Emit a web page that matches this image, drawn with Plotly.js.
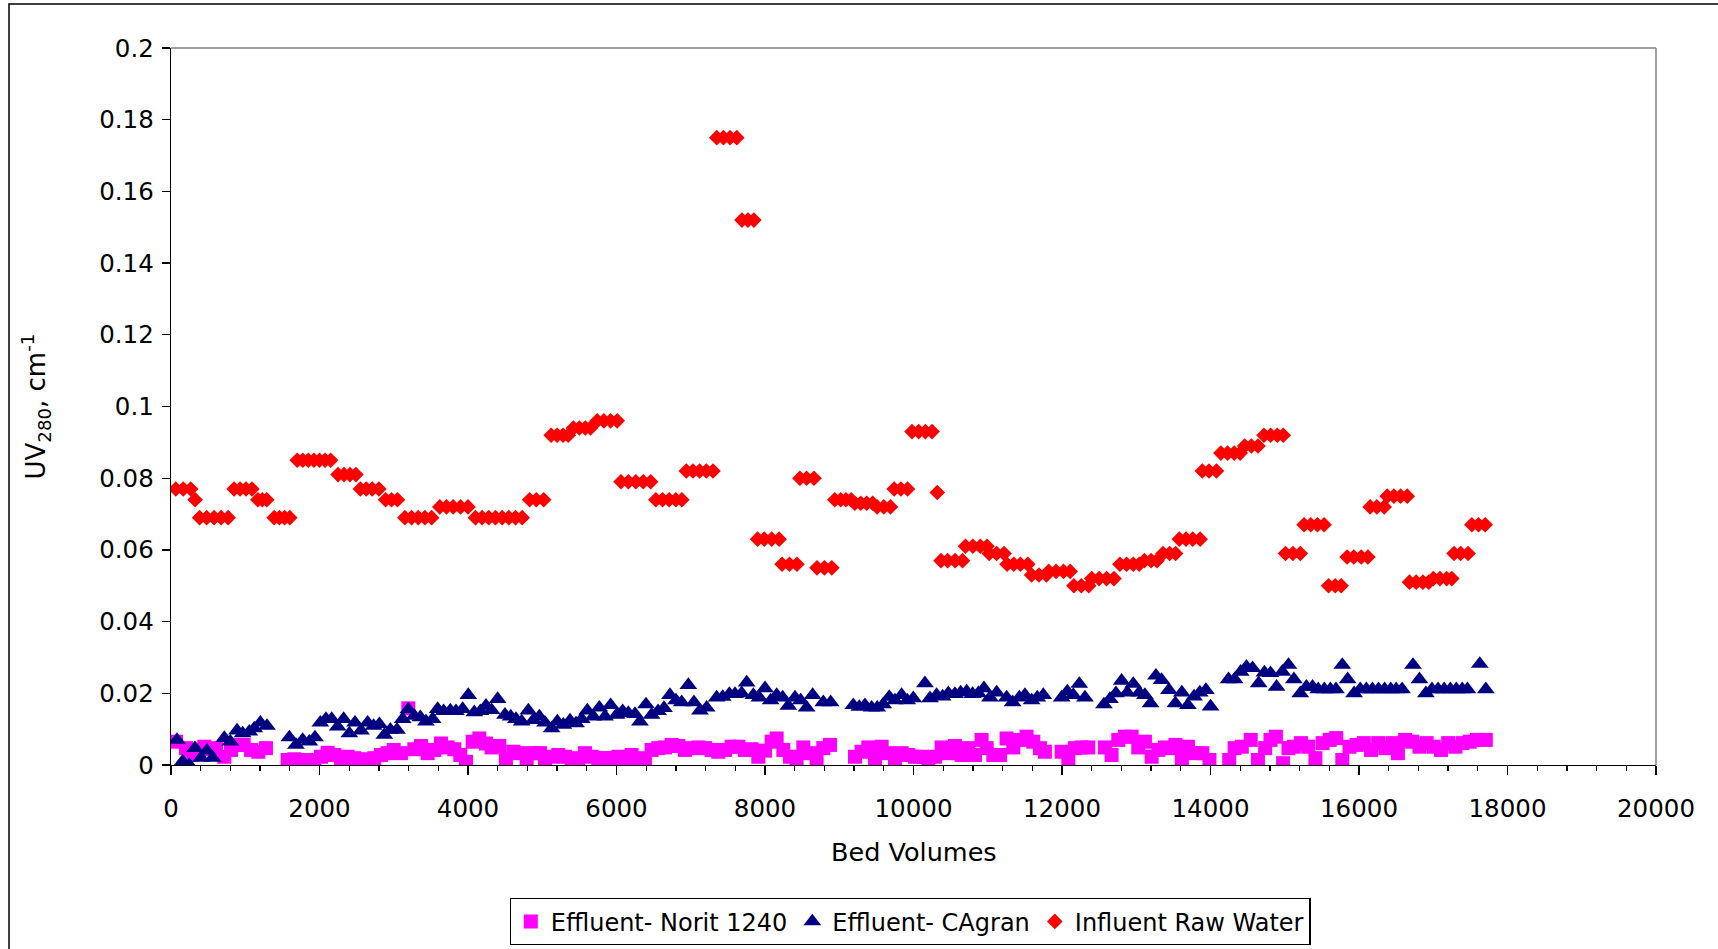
<!DOCTYPE html>
<html>
<head>
<meta charset="utf-8">
<script src="https://cdn.plot.ly/plotly-3.0.1.min.js"></script>
<style>
html,body{margin:0;padding:0;background:#fff;}
#chart{width:1718px;height:949px;}
</style>
</head>
<body>
<div id="chart"></div>
<script>
// Effluent - Norit 1240 (squares)
const bvNorit = [67,202,269,359,449,530,606,718,808,898,979,1077,1176,1279,
1571,1661,1751,1840,1930,2020,2110,2200,2289,2379,2469,2559,2648,2738,2828,2918,2999,3097,3196,3277,3367,3457,3546,3636,3726,3816,3896,3973,4063,4152,4242,4318,4422,4511,
4611,4700,4790,4880,4970,5037,5127,5217,5306,5396,5486,5576,5666,5755,5845,5935,6025,6114,6204,6294,6384,6473,6563,6653,6743,6833,6922,7012,7102,7192,7281,7371,7461,7551,7641,7730,7820,7910,8000,8090,8157,8247,8336,8426,8516,8606,8695,8785,8875,
9212,9301,9391,9481,9571,9661,9750,9840,9930,10020,10110,10199,10289,10379,10469,10558,10648,10738,10828,10917,10985,11075,11165,11254,11344,11434,11523,11613,11703,11770,
11995,12085,12174,12264,12354,12578,12668,12758,12848,12938,13027,13117,13207,13297,13386,13430,13527,13614,13696,13793,13890,13986,
14252,14325,14422,14542,14639,14736,14808,14881,14977,15050,15123,15219,15316,15413,15510,15606,15693,15775,15872,15968,16065,16162,16259,16355,16452,16524,16621,16717,16814,16911,17007,17104,17201,17298,17395,17491,17588,17708];
const uvNorit = [0.0065,0.0047,0.0028,0.0042,0.0051,0.0044,0.0047,0.0023,0.0042,0.0056,0.0056,0.0042,0.0037,0.0047,
0.0014,0.0016,0.0014,0.0014,0.0009,0.0023,0.0034,0.0028,0.0019,0.0023,0.0019,0.0016,0.0014,0.0019,0.0028,0.0033,0.0042,0.0033,0.0158,0.0044,0.0053,0.0033,0.0042,0.0060,0.0049,0.0044,0.0028,0.0009,0.0065,0.0074,0.0060,0.0049,0.0053,0.0015,
0.0037,0.0033,0.0009,0.0033,0.0033,0.0009,0.0023,0.0028,0.0023,0.0014,0.0019,0.0033,0.0023,0.0019,0.0019,0.0019,0.0023,0.0019,0.0028,0.0014,0.0019,0.0042,0.0047,0.0049,0.0056,0.0053,0.0042,0.0047,0.0049,0.0047,0.0042,0.0037,0.0042,0.0051,0.0051,0.0042,0.0044,0.0023,0.0040,0.0065,0.0074,0.0042,0.0023,0.0014,0.0049,0.0033,0.0014,0.0047,0.0056,
0.0023,0.0037,0.0049,0.0014,0.0051,0.0033,0.0016,0.0033,0.0028,0.0023,0.0023,0.0019,0.0023,0.0049,0.0033,0.0053,0.0028,0.0047,0.0028,0.0070,0.0047,0.0028,0.0028,0.0074,0.0049,0.0070,0.0079,0.0065,0.0047,0.0037,
0.0037,0.0019,0.0047,0.0049,0.0049,0.0049,0.0028,0.0070,0.0079,0.0079,0.0049,0.0065,0.0023,0.0042,0.0049,0.0047,0.0056,0.0019,0.0051,0.0033,0.0033,0.0014,
0.0014,0.0047,0.0051,0.0070,0.0014,0.0047,0.0070,0.0079,0.0005,0.0047,0.0051,0.0061,0.0051,0.0019,0.0061,0.0070,0.0075,0.0014,0.0051,0.0056,0.0061,0.0042,0.0061,0.0047,0.0061,0.0033,0.0070,0.0065,0.0051,0.0061,0.0051,0.0042,0.0061,0.0051,0.0061,0.0065,0.0070,0.0070];

// Effluent - CAgran (triangles)
const bvCAgran = [81,157,247,323,404,485,561,718,799,889,965,1055,1122,1203,1293,
1594,1683,1773,1863,1939,2011,2087,2164,2245,2325,2402,2478,2559,2648,2729,2806,2873,2954,3044,3120,3196,3277,3358,3434,3524,3591,3672,3762,3838,3928,4004,4085,4166,4242,4318,4399,
4498,4575,4646,4723,4813,4880,4961,5037,5127,5203,5284,5374,5455,5531,5607,5688,5769,5845,5921,6002,6083,6159,6249,6316,6397,6473,6560,6640,6720,6801,6878,6967,7043,7124,7214,7349,7430,7520,7596,7686,7753,7843,7924,8000,8076,8157,8238,8314,8404,8480,8561,8642,8785,8884,
9189,9270,9346,9436,9512,9593,9674,9750,9840,9916,9997,10154,10222,10311,10392,10469,10558,10635,10716,10796,10873,10949,11030,11120,11254,11335,11425,11501,11591,11667,11748,
11995,12071,12152,12233,12309,12565,12646,12726,12803,12879,12960,13041,13117,13193,13265,13341,13440,13527,13614,13696,13778,13856,13938,14001,
14243,14325,14407,14484,14566,14649,14726,14808,14890,14968,15050,15123,15209,15292,15374,15451,15533,15615,15690,15775,15847,15934,16017,16099,16181,16263,16345,16427,16500,16580,16727,16814,16901,16983,17065,17147,17230,17310,17390,17460,17627,17708];
const uvCAgran = [0.0070,0.0010,0.0000,0.0047,0.0020,0.0040,0.0020,0.0075,0.0065,0.0096,0.0088,0.0093,0.0102,0.0118,0.0109,
0.0077,0.0056,0.0070,0.0065,0.0077,0.0118,0.0128,0.0128,0.0107,0.0128,0.0088,0.0118,0.0096,0.0118,0.0109,0.0114,0.0084,0.0098,0.0098,0.0128,0.0155,0.0137,0.0133,0.0121,0.0128,0.0156,0.0150,0.0152,0.0150,0.0156,0.0195,0.0147,0.0150,0.0165,0.0153,0.0184,
0.0140,0.0135,0.0128,0.0121,0.0152,0.0125,0.0135,0.0118,0.0102,0.0121,0.0112,0.0124,0.0116,0.0128,0.0152,0.0135,0.0160,0.0135,0.0167,0.0140,0.0150,0.0145,0.0142,0.0121,0.0169,0.0140,0.0150,0.0159,0.0195,0.0180,0.0175,0.0223,0.0175,0.0152,0.0160,0.0188,0.0190,0.0198,0.0198,0.0200,0.0230,0.0195,0.0188,0.0214,0.0180,0.0195,0.0188,0.0165,0.0188,0.0180,0.0160,0.0195,0.0175,0.0175,
0.0167,0.0162,0.0167,0.0160,0.0160,0.0169,0.0190,0.0180,0.0195,0.0180,0.0186,0.0228,0.0186,0.0195,0.0191,0.0200,0.0198,0.0202,0.0205,0.0198,0.0200,0.0214,0.0188,0.0202,0.0188,0.0175,0.0188,0.0195,0.0180,0.0188,0.0195,
0.0188,0.0205,0.0195,0.0226,0.0188,0.0169,0.0184,0.0200,0.0235,0.0202,0.0226,0.0202,0.0195,0.0172,0.0249,0.0237,0.0209,0.0172,0.0202,0.0167,0.0191,0.0202,0.0209,0.0163,
0.0239,0.0239,0.0260,0.0274,0.0270,0.0228,0.0258,0.0256,0.0218,0.0260,0.0279,0.0239,0.0200,0.0218,0.0218,0.0211,0.0211,0.0211,0.0211,0.0279,0.0239,0.0200,0.0211,0.0211,0.0211,0.0211,0.0211,0.0211,0.0211,0.0211,0.0279,0.0239,0.0200,0.0211,0.0211,0.0211,0.0211,0.0211,0.0211,0.0211,0.0282,0.0211];

// Influent Raw Water (diamonds)
const bvInfluent = [65,165,265,325,385,480,580,675,770,850,930,1010,1090,1170,1230,1290,1390,1460,1530,1600,
1700,1775,1850,1925,2000,2075,2150,2250,2330,2410,2490,2550,2630,2710,2800,2890,2970,3050,3150,3240,3330,3420,3510,
3620,3710,3800,3900,4000,4100,4190,4280,4370,4460,4550,4640,4730,4830,4920,5020,5120,5200,5280,5350,5420,5500,5580,5650,
5740,5830,5920,6010,6060,6160,6260,6360,6460,6530,6620,6710,6800,6880,6940,7030,7120,7210,7300,7350,7440,7530,7620,
7690,7770,7850,7900,7990,8090,8190,8230,8330,8430,8470,8560,8660,8700,8800,8900,8940,9020,9090,9160,9210,9290,9370,9450,
9510,9600,9690,9740,9830,9920,9980,10070,10160,10250,10320,10370,10460,10560,10660,10700,10800,10900,10990,11020,11120,11220,
11260,11350,11440,11540,11590,11690,11790,11820,11920,12020,12110,12160,12260,12360,12400,12500,12600,12700,12780,12870,12960,13040,
13110,13200,13280,13360,13450,13530,13580,13670,13760,13860,13890,13980,14080,14140,14230,14320,14400,14460,14550,14640,14720,14810,14900,14980,
15010,15110,15210,15260,15350,15440,15530,15590,15680,15760,15840,15930,16030,16120,16150,16240,16340,16380,16470,16560,16650,
16680,16770,16860,16940,17000,17090,17180,17250,17280,17370,17470,17520,17610,17700];
const uvInfluent = [0.077,0.077,0.077,0.074,0.069,0.069,0.069,0.069,0.069,0.077,0.077,0.077,0.077,0.074,0.074,0.074,0.069,0.069,0.069,0.069,
0.085,0.085,0.085,0.085,0.085,0.085,0.085,0.081,0.081,0.081,0.081,0.077,0.077,0.077,0.077,0.074,0.074,0.074,0.069,0.069,0.069,0.069,0.069,
0.072,0.072,0.072,0.072,0.072,0.069,0.069,0.069,0.069,0.069,0.069,0.069,0.069,0.074,0.074,0.074,0.092,0.092,0.092,0.092,0.094,0.094,0.094,0.094,
0.096,0.096,0.096,0.096,0.079,0.079,0.079,0.079,0.079,0.074,0.074,0.074,0.074,0.074,0.082,0.082,0.082,0.082,0.082,0.175,0.175,0.175,0.175,
0.152,0.152,0.152,0.063,0.063,0.063,0.063,0.056,0.056,0.056,0.080,0.080,0.080,0.055,0.055,0.055,0.074,0.074,0.074,0.074,0.073,0.073,0.073,0.073,
0.072,0.072,0.072,0.077,0.077,0.077,0.093,0.093,0.093,0.093,0.076,0.057,0.057,0.057,0.057,0.061,0.061,0.061,0.061,0.059,0.059,0.059,
0.056,0.056,0.056,0.056,0.053,0.053,0.053,0.054,0.054,0.054,0.054,0.050,0.050,0.050,0.052,0.052,0.052,0.052,0.056,0.056,0.056,0.056,
0.057,0.057,0.057,0.059,0.059,0.059,0.063,0.063,0.063,0.063,0.082,0.082,0.082,0.087,0.087,0.087,0.087,0.089,0.089,0.089,0.092,0.092,0.092,0.092,
0.059,0.059,0.059,0.067,0.067,0.067,0.067,0.050,0.050,0.050,0.058,0.058,0.058,0.058,0.072,0.072,0.072,0.075,0.075,0.075,0.075,
0.051,0.051,0.051,0.051,0.052,0.052,0.052,0.052,0.059,0.059,0.059,0.067,0.067,0.067];

const seriesNames = ['Effluent- Norit 1240', 'Effluent- CAgran', 'Influent Raw Water'];
const xTitle = 'Bed Volumes';
const yTitle = 'UV<sub>280</sub>, cm<sup>-1</sup>';

const FONT = 'DejaVu Sans, Arial, sans-serif';
const W = 1718, H = 949;
const L = 171, R = 62, T = 48, B = 184;
const pw = W - L - R, ph = H - T - B;
const px = v => (v - L) / pw;
const py = v => (H - B - v) / ph;

const traces = [
  {x: bvNorit, y: uvNorit, name: seriesNames[0], type: 'scatter', mode: 'markers',
   marker: {symbol: 'square', size: 14, color: '#FF00FF'}},
  {x: bvCAgran, y: uvCAgran, name: seriesNames[1], type: 'scatter', mode: 'markers',
   marker: {symbol: 'triangle-up', size: 15.5, color: '#000080'}},
  {x: bvInfluent, y: uvInfluent, name: seriesNames[2], type: 'scatter', mode: 'markers',
   marker: {symbol: 'diamond', size: 12, color: '#FF0000'}}
];

const layout = {
  width: W, height: H,
  margin: {l: L, r: R, t: T, b: B, pad: 0, autoexpand: false},
  paper_bgcolor: '#fff', plot_bgcolor: '#fff',
  font: {family: FONT, size: 24, color: '#000'},
  showlegend: true,
  hovermode: false,
  xaxis: {
    range: [0, 20000], dtick: 2000, tick0: 0, tickformat: 'd',
    ticks: 'outside', ticklen: 9, tickwidth: 1.3, tickcolor: '#000',
    minor: {dtick: 400, ticks: 'outside', ticklen: 5, tickwidth: 1.3, tickcolor: '#000'},
    showline: true, linecolor: '#000', linewidth: 1.3,
    showgrid: false, zeroline: false, ticklabelstandoff: 12, automargin: false,
    tickfont: {family: FONT, size: 24.5, color: '#000'}
  },
  yaxis: {
    range: [0, 0.2], dtick: 0.02, tick0: 0,
    ticks: 'outside', ticklen: 8, tickwidth: 1.3, tickcolor: '#000',
    showline: true, linecolor: '#000', linewidth: 1.3,
    showgrid: false, zeroline: false, ticklabelstandoff: 3, automargin: false,
    tickfont: {family: FONT, size: 24.5, color: '#000'}
  },
  legend: {
    orientation: 'h', x: px(910), xanchor: 'center', y: py(898), yanchor: 'top',
    bordercolor: '#000', borderwidth: 1.3, bgcolor: '#fff',
    font: {family: FONT, size: 24, color: '#000'}, traceorder: 'normal'
  },
  annotations: [
    {text: xTitle, xref: 'paper', yref: 'paper', x: 0.5, y: py(852), xanchor: 'center', yanchor: 'middle',
     showarrow: false, font: {family: FONT, size: 25.5, color: '#000'}},
    {text: yTitle, xref: 'paper', yref: 'paper', x: px(36), y: 0.5, xanchor: 'center', yanchor: 'middle',
     textangle: -90, showarrow: false, font: {family: FONT, size: 26, color: '#000'}}
  ],
  shapes: [
    {type: 'line', xref: 'paper', yref: 'paper', x0: 0, x1: 1, y0: 1, y1: 1, line: {color: '#808080', width: 1.5}, layer: 'below'},
    {type: 'line', xref: 'paper', yref: 'paper', x0: 1, x1: 1, y0: 0, y1: 1, line: {color: '#808080', width: 1.5}, layer: 'below'},
    {type: 'rect', xref: 'paper', yref: 'paper', x0: px(9), x1: px(1722), y0: py(953), y1: py(4), line: {color: '#000', width: 1.5}, fillcolor: 'rgba(0,0,0,0)', layer: 'below'}
  ]
};

Plotly.newPlot('chart', traces, layout, {displayModeBar: false, staticPlot: true});
</script>
</body>
</html>
